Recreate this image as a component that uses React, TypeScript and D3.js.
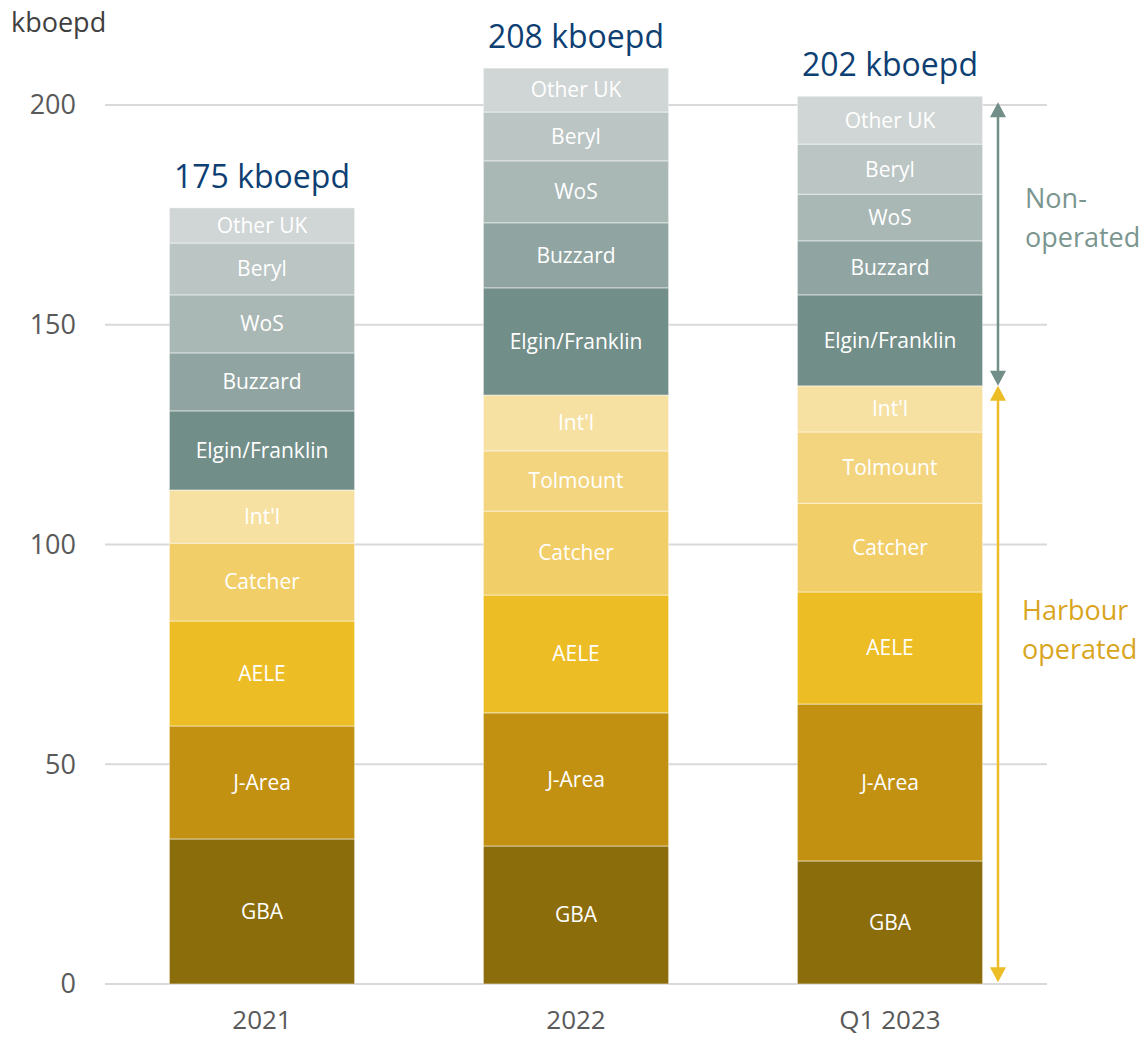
import React, { useEffect, useRef } from 'react';
import * as d3 from 'd3';

const categories = ['2021', '2022', 'Q1 2023'];
const totals = ['175 kboepd', '208 kboepd', '202 kboepd'];

// segments, bottom to top
const segments = ['GBA', 'J-Area', 'AELE', 'Catcher', 'Tolmount', "Int'l", 'Elgin/Franklin', 'Buzzard', 'WoS', 'Beryl', 'Other UK'];
const segColors = ['#8C6D0C', '#C29112', '#EDBD25', '#F2CE68', '#F3D580', '#F6E1A3', '#728E89', '#90A5A1', '#A9B7B5', '#BBC5C4', '#D0D6D5'];

const v2021 = [33.0, 25.7, 23.9, 17.7, 0, 12.1, 18.0, 13.2, 13.2, 11.8, 8.0];
const v2022 = [31.4, 30.3, 26.8, 19.1, 13.7, 12.7, 24.4, 14.8, 14.1, 11.1, 10.0];
const vQ1 = [28.0, 35.7, 25.5, 20.2, 16.2, 10.5, 20.7, 12.3, 10.6, 11.4, 10.9];
const values = [v2021, v2022, vQ1];

const yTicks = [0, 50, 100, 150, 200];
// bracket ranges on the right (value units)
const nonOpRange = [136.1, 200.6];
const harbourRange = [0.4, 136.1];

const FONT = "'Open Sans', 'Noto Sans', sans-serif";

export default function App() {
    const ref = useRef<SVGSVGElement>(null);

    useEffect(() => {
        const svg = d3.select(ref.current);
        svg.selectAll('*').remove();

        const x = d3.scaleBand().domain(categories).range([105, 1047]).paddingInner(0.41).paddingOuter(0.205);
        const y = d3.scaleLinear().domain([0, 200]).range([984, 105]);

        // gridlines
        svg.append('g')
            .selectAll('line')
            .data(yTicks)
            .enter()
            .append('line')
            .attr('x1', 105)
            .attr('x2', 1047)
            .attr('y1', (d) => y(d))
            .attr('y2', (d) => y(d))
            .attr('stroke', '#D9D9D9')
            .attr('stroke-width', 2);

        svg.append('g')
            .selectAll('text')
            .data(yTicks)
            .enter()
            .append('text')
            .attr('x', 76)
            .attr('y', (d) => y(d))
            .attr('dy', '0.35em')
            .attr('text-anchor', 'end')
            .attr('fill', '#595959')
            .style('font-size', '27px')
            .text((d) => d);

        svg.append('text')
            .attr('x', 11)
            .attr('y', 32)
            .attr('fill', '#404040')
            .style('font-size', '27px')
            .text('kboepd');

        // stacked bars
        categories.forEach((cat, ci) => {
            const vals = values[ci];
            let acc = 0;
            const g = svg.append('g');
            vals.forEach((v, si) => {
                if (v <= 0) return;
                const y0 = acc;
                const y1 = acc + v;
                acc = y1;
                g.append('rect')
                    .attr('x', x(cat)!)
                    .attr('width', x.bandwidth())
                    .attr('y', y(y1))
                    .attr('height', y(y0) - y(y1))
                    .attr('fill', segColors[si])
                    .attr('stroke', 'rgba(255,255,255,0.5)')
                    .attr('stroke-width', 1);
                g.append('text')
                    .attr('x', x(cat)! + x.bandwidth() / 2)
                    .attr('y', (y(y0) + y(y1)) / 2)
                    .attr('dy', '0.35em')
                    .attr('text-anchor', 'middle')
                    .attr('fill', '#FFFFFF')
                    .style('font-size', '21px')
                    .text(segments[si]);
            });
            svg.append('text')
                .attr('x', x(cat)! + x.bandwidth() / 2)
                .attr('y', y(acc) - 20)
                .attr('text-anchor', 'middle')
                .attr('fill', '#0E3F73')
                .style('font-size', '32px')
                .text(totals[ci]);
            svg.append('text')
                .attr('x', x(cat)! + x.bandwidth() / 2)
                .attr('y', 1029)
                .attr('text-anchor', 'middle')
                .attr('fill', '#595959')
                .style('font-size', '26px')
                .text(cat);
        });

        // brackets
        const ax = 998;
        const drawArrow = (range: number[], color: string) => {
            const top = y(range[1]);
            const bot = y(range[0]);
            const g = svg.append('g');
            g.append('line')
                .attr('x1', ax)
                .attr('x2', ax)
                .attr('y1', top + 8)
                .attr('y2', bot - 8)
                .attr('stroke', color)
                .attr('stroke-width', 2.5);
            g.append('polygon')
                .attr('points', `${ax - 8},${top + 15} ${ax + 8},${top + 15} ${ax},${top}`)
                .attr('fill', color);
            g.append('polygon')
                .attr('points', `${ax - 8},${bot - 15} ${ax + 8},${bot - 15} ${ax},${bot}`)
                .attr('fill', color);
        };
        drawArrow(nonOpRange, '#728E89');
        drawArrow(harbourRange, '#EDBD25');

        const nonText = svg.append('text').attr('fill', '#7A968F').style('font-size', '27px');
        nonText.append('tspan').attr('x', 1025).attr('y', 208).text('Non-');
        nonText.append('tspan').attr('x', 1025).attr('y', 247).text('operated');

        const harbText = svg.append('text').attr('fill', '#D9A520').style('font-size', '27px');
        harbText.append('tspan').attr('x', 1022).attr('y', 620).text('Harbour');
        harbText.append('tspan').attr('x', 1022).attr('y', 659).text('operated');
    }, []);

    return (
        <svg
            ref={ref}
            width={1145}
            height={1038}
            style={{ display: 'block', position: 'absolute', left: 0, top: 0, fontFamily: FONT, background: '#fff' }}
        />
    );
}
